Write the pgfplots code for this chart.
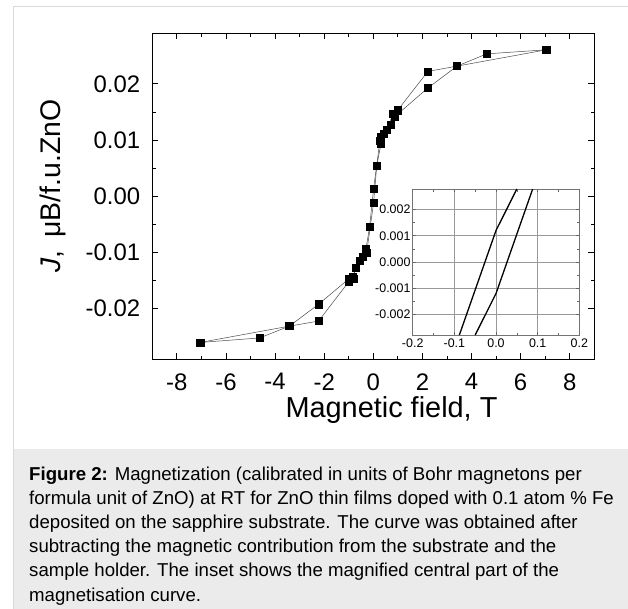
\documentclass[border=0pt]{standalone}
\usepackage{fontspec}
\setmainfont{Liberation Sans}
\usepackage{pgfplots}
\pgfplotsset{compat=1.18}
\definecolor{framegray}{HTML}{D9D9D9}
\definecolor{capgray}{HTML}{EBEBEB}
\begin{document}
\begin{tikzpicture}[x=1bp,y=1bp]
\useasboundingbox (0,0) rectangle (628,-609);
\fill[white] (0,0) rectangle (628,-609);
\fill[capgray] (13,-449.3) rectangle (628,-609);
\draw[framegray, line width=1bp] (13,-609) -- (13,-7) -- (628,-7);
\begin{axis}[
  at={(152.3bp,-359.3bp)}, anchor=south west,
  scale only axis, width=442bp, height=326bp,
  xmin=-9, xmax=9, ymin=-0.029, ymax=0.029,
  scaled ticks=false,
  xtick={-8,-6,-4,-2,0,2,4,6,8}, xticklabels={-8,-6,-4,-2,0,2,4,6,8},
  ytick={-0.02,-0.01,0,0.01,0.02}, yticklabels={-0.02,-0.01,0.00,0.01,0.02},
  minor x tick num=1, minor y tick num=1,
  tick align=inside, xtick pos=both, ytick pos=both,
  major tick length=6bp, minor tick length=3.5bp,
  axis line style={black, line width=0.8bp},
  tick style={black, line width=0.8bp},
  ticklabel style={font=\fontsize{24}{25}\selectfont},
  xticklabel style={inner sep=0pt, anchor=north, yshift=-14bp},
  yticklabel style={inner sep=0pt, anchor=east, xshift=-12bp},
  every axis x label/.style={at={(axis description cs:0.5,0)}, anchor=base, yshift=-57.7bp, xshift=18.2bp, inner sep=0pt, font=\fontsize{29}{30}\selectfont},
  every axis y label/.style={at={(axis description cs:-0.2088,0.5316)}, rotate=90, anchor=base, inner sep=0pt, font=\fontsize{28.5}{30}\selectfont},
  xlabel={Magnetic field, T},
  ylabel={\textit{J}, \,μB/f.u.ZnO},
]
\addplot[black!70, line width=0.5bp, mark=square*, mark size=3.6bp, mark options={fill=black, draw=black, solid}] coordinates {
(7.04,0.02606) (4.62,0.02535) (3.41,0.02316) (2.22,0.02222)
(0.99,0.0153) (0.80,0.0147) (0.55,0.0118) (0.31,0.0106) (0.27,0.0099)
(0.01,0.0013) (-0.15,-0.0054) (-0.30,-0.0094) (-0.55,-0.0114) (-0.84,-0.0143) (-1.00,-0.0147)
(-2.23,-0.0192) (-3.42,-0.0231) (-7.05,-0.0260)
};
\addplot[black!70, line width=0.5bp, mark=square*, mark size=3.6bp, mark options={fill=black, draw=black, solid}] coordinates {
(-7.05,-0.0260) (-4.63,-0.0252) (-3.42,-0.0231) (-2.23,-0.0222)
(-1.00,-0.0152) (-0.80,-0.0146) (-0.73,-0.0127) (-0.43,-0.0107) (-0.27,-0.0100)
(0.01,-0.0012) (0.14,0.0054) (0.31,0.0093) (0.44,0.0112) (0.71,0.0128) (0.88,0.0142)
(2.22,0.01926) (3.41,0.02316) (7.04,0.02606)
};
\end{axis}
\begin{axis}[
  at={(412.7bp,-335bp)}, anchor=south west,
  scale only axis, width=166.6bp, height=146bp,
  xmin=-0.2, xmax=0.2, ymin=-0.00278, ymax=0.00278,
  scaled ticks=false,
  xtick={-0.2,-0.1,0,0.1,0.2}, xticklabels={-0.2,-0.1,0.0,0.1,0.2},
  ytick={-0.002,-0.001,0,0.001,0.002}, yticklabels={-0.002,-0.001,0.000,0.001,0.002},
  minor x tick num=1, minor y tick num=1,
  tick align=inside, xtick pos=both, ytick pos=both,
  grid=major, major grid style={black!40, line width=0.6bp},
  axis line style={black!55, line width=0.7bp},
  tick style={black!60, line width=0.6bp},
  major tick length=3bp, minor tick length=2.5bp,
  axis background/.style={fill=white},
  ticklabel style={font=\fontsize{12.5}{13}\selectfont},
  xticklabel style={inner sep=0pt, anchor=north, yshift=-4bp},
  yticklabel style={inner sep=0pt, anchor=east, xshift=-2bp},
]
\addplot[black, line width=1.3bp] coordinates {(-0.088,-0.00278) (0,0.0012) (0.050,0.00278)};
\addplot[black, line width=1.3bp] coordinates {(-0.050,-0.00278) (0,-0.0012) (0.088,0.00278)};
\end{axis}
\begin{scope}[every node/.style={anchor=base west, inner sep=0pt, font=\fontsize{18.7}{21}\selectfont}]
\node at (29,-480) {\textbf{Figure 2:} Magnetization (calibrated in units of Bohr magnetons per};
\node at (29,-504.2) {formula unit of ZnO) at RT for ZnO thin films doped with 0.1 atom \% Fe};
\node at (29,-528.4) {deposited on the sapphire substrate. The curve was obtained after};
\node at (29,-552.6) {subtracting the magnetic contribution from the substrate and the};
\node at (29,-576.8) {sample holder. The inset shows the magnified central part of the};
\node at (29,-601) {magnetisation curve.};
\end{scope}
\end{tikzpicture}
\end{document}
